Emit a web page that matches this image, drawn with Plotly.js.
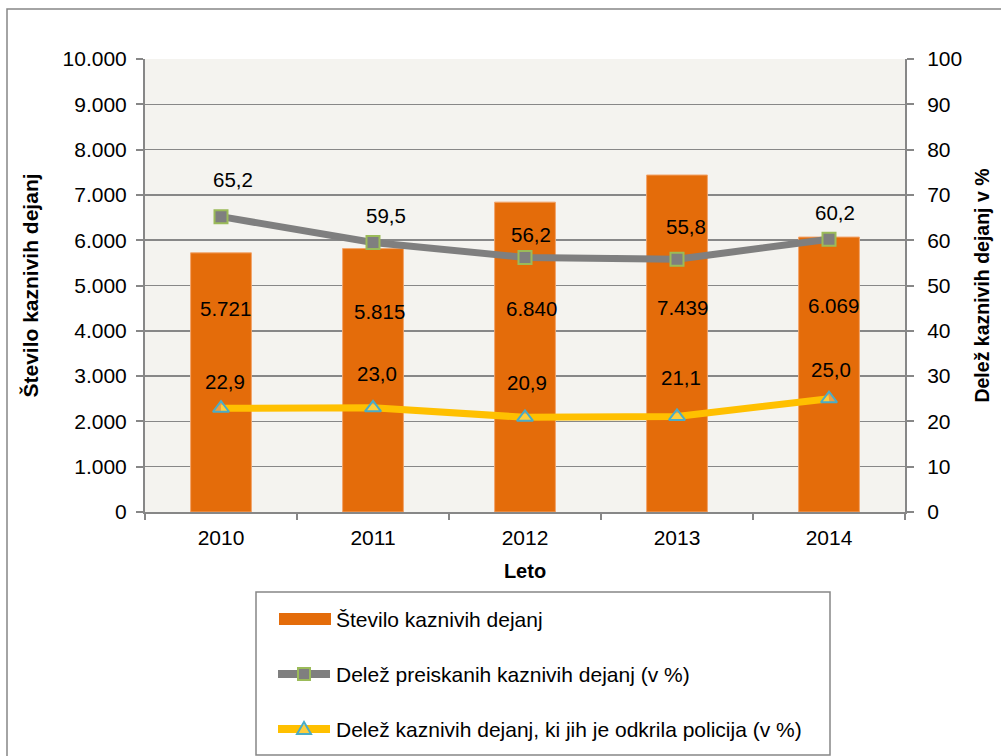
<!DOCTYPE html>
<html>
<head>
<meta charset="utf-8">
<script src="https://cdn.plot.ly/plotly-3.0.1.min.js"></script>
<style>html,body{margin:0;padding:0;background:#fff;}#chart{width:1001px;height:756px;}</style>
</head>
<body>
<div id="chart"></div>
<script>
// ---- data ----
var years = [2010, 2011, 2012, 2013, 2014];
var yearLabels = ['2010', '2011', '2012', '2013', '2014'];
var steviloKD = [5721, 5815, 6840, 7439, 6069];
var delezPreiskanih = [65.2, 59.5, 56.2, 55.8, 60.2];
var delezOdkritih = [22.9, 23.0, 20.9, 21.1, 25.0];
var steviloLabels = ['5.721', '5.815', '6.840', '7.439', '6.069'];
var preiskanihLabels = ['65,2', '59,5', '56,2', '55,8', '60,2'];
var odkritihLabels = ['22,9', '23,0', '20,9', '21,1', '25,0'];
var leftTickVals = [0, 1000, 2000, 3000, 4000, 5000, 6000, 7000, 8000, 9000, 10000];
var leftTickText = ['0', '1.000', '2.000', '3.000', '4.000', '5.000', '6.000', '7.000', '8.000', '9.000', '10.000'];

var seriesNames = ['Število kaznivih dejanj', 'Delež preiskanih kaznivih dejanj (v %)', 'Delež kaznivih dejanj, ki jih je odkrila policija (v %)'];

// ---- label placement (pixel shifts, styling only) ----
var grayShiftY = [37, 27, 23, 33, 27];
var grayShiftX = [12, 13, 6, 9, 6];
var yelShiftY = [27, 34, 35, 39, 29];
var yelShiftX = [4, 4, 2, 4, 2];
var barShiftX = [4, 6, 6, 5, 4];
var barShiftY = [0, -3, 0, 1, 3];

var FONT = 'Liberation Sans, Arial, sans-serif';
var GRID = '#878787';
var ORANGE = '#e46c0a', GRAY = '#7f7f7f', GREEN = '#9bbb59', YELLOW = '#ffc000', BLUE = '#4bacc6';

var boundaries = [];
for (var b = 0; b <= years.length; b++) boundaries.push(years[0] - 0.5 + b);

var traces = [
  {
    type: 'bar', x: years, y: steviloKD, name: seriesNames[0],
    marker: {color: ORANGE, line: {color: '#f2a46a', width: 1}},
    width: 0.4, hoverinfo: 'skip', showlegend: false
  },
  {
    type: 'scatter', mode: 'lines+markers', x: years, y: delezPreiskanih, yaxis: 'y2', name: seriesNames[1],
    line: {color: GRAY, width: 7},
    marker: {symbol: 'square', size: 13, color: GRAY, line: {color: GREEN, width: 2}},
    hoverinfo: 'skip', showlegend: false
  },
  {
    type: 'scatter', mode: 'lines+markers', x: years, y: delezOdkritih, yaxis: 'y2', name: seriesNames[2],
    line: {color: YELLOW, width: 7},
    marker: {symbol: 'triangle-up', size: 14, color: 'rgba(255,230,150,0.4)', line: {color: BLUE, width: 2}},
    hoverinfo: 'skip', showlegend: false
  }
];

var annotations = [];
for (var i = 0; i < years.length; i++) {
  annotations.push({x: years[i], y: 4500, xref: 'x', yref: 'y', text: steviloLabels[i], showarrow: false,
    xshift: barShiftX[i], yshift: barShiftY[i], font: {family: FONT, size: 20.5, color: '#000'}});
  annotations.push({x: years[i], y: delezPreiskanih[i], xref: 'x', yref: 'y2', text: preiskanihLabels[i], showarrow: false,
    xshift: grayShiftX[i], yshift: grayShiftY[i], font: {family: FONT, size: 20.5, color: '#000'}});
  annotations.push({x: years[i], y: delezOdkritih[i], xref: 'x', yref: 'y2', text: odkritihLabels[i], showarrow: false,
    xshift: yelShiftX[i], yshift: yelShiftY[i], font: {family: FONT, size: 20.5, color: '#000'}});
}

// pixel -> paper helpers (plot area 145..905 x 59..512)
function px(v) { return (v - 145) / 760; }
function py(v) { return (512 - v) / 453; }

var shapes = [
  {type: 'rect', xref: 'paper', yref: 'paper', x0: px(7), x1: px(1010), y0: py(9), y1: py(770),
    line: {color: '#868686', width: 1.5}, fillcolor: 'rgba(0,0,0,0)', layer: 'below'},
  {type: 'rect', xref: 'paper', yref: 'paper', x0: px(256), x1: px(830), y0: py(592), y1: py(755),
    line: {color: '#868686', width: 1.5}, fillcolor: 'rgba(0,0,0,0)'}
];

// custom legend
var legY = [619, 674, 729];
shapes.push({type: 'rect', xref: 'paper', yref: 'paper', x0: px(279), x1: px(331), y0: py(613), y1: py(625),
  line: {width: 0}, fillcolor: ORANGE});
shapes.push({type: 'line', xref: 'paper', yref: 'paper', x0: px(278), x1: px(330), y0: py(legY[1]), y1: py(legY[1]),
  line: {color: GRAY, width: 8}});
shapes.push({type: 'rect', xref: 'paper', yref: 'paper', x0: px(298), x1: px(310), y0: py(legY[1] - 6), y1: py(legY[1] + 6),
  line: {color: GREEN, width: 2}, fillcolor: GRAY});
shapes.push({type: 'line', xref: 'paper', yref: 'paper', x0: px(278), x1: px(330), y0: py(legY[2]), y1: py(legY[2]),
  line: {color: YELLOW, width: 8}});
shapes.push({type: 'path', xref: 'paper', yref: 'paper',
  path: 'M ' + px(304) + ' ' + py(legY[2] - 7) + ' L ' + px(297) + ' ' + py(legY[2] + 5) + ' L ' + px(311) + ' ' + py(legY[2] + 5) + ' Z',
  line: {color: BLUE, width: 2}, fillcolor: 'rgba(255,230,150,0.4)'});
for (var k = 0; k < seriesNames.length; k++) {
  annotations.push({xref: 'paper', yref: 'paper', x: px(334), y: py(legY[k]), xanchor: 'left', yanchor: 'middle',
    text: seriesNames[k], showarrow: false, font: {family: FONT, size: 21, color: '#000'}});
}

var layout = {
  width: 1001, height: 756,
  margin: {l: 145, r: 96, t: 59, b: 244},
  paper_bgcolor: '#ffffff',
  plot_bgcolor: '#f4f3ef',
  font: {family: FONT, size: 21, color: '#000'},
  showlegend: false,
  xaxis: {
    type: 'linear', range: [years[0] - 0.5, years[years.length - 1] + 0.5],
    tickvals: years, ticktext: yearLabels, ticks: '',
    minor: {tickvals: boundaries, ticks: 'outside', ticklen: 6, tickwidth: 2, tickcolor: GRID, showgrid: false},
    showline: true, linecolor: GRID, linewidth: 2, showgrid: false, zeroline: false,
    tickfont: {family: FONT, size: 21}, ticklabelstandoff: 6,
    title: {text: '<b>Leto</b>', font: {family: FONT, size: 20}, standoff: 16},
    fixedrange: true
  },
  yaxis: {
    range: [0, 10000], tickvals: leftTickVals, ticktext: leftTickText,
    ticks: 'outside', ticklen: 7, tickwidth: 2, tickcolor: GRID,
    showline: true, linecolor: GRID, linewidth: 2,
    showgrid: true, gridcolor: GRID, gridwidth: 1.5, zeroline: false,
    tickfont: {family: FONT, size: 21}, ticklabelstandoff: 5,
    title: {text: '<b>Število kaznivih dejanj</b>', font: {family: FONT, size: 21}, standoff: 18},
    fixedrange: true
  },
  yaxis2: {
    overlaying: 'y', side: 'right', range: [0, 100], dtick: 10,
    ticks: 'outside', ticklen: 7, tickwidth: 2, tickcolor: GRID,
    showline: true, linecolor: GRID, linewidth: 2, showgrid: false, zeroline: false,
    tickfont: {family: FONT, size: 21}, ticklabelstandoff: 9,
    title: {text: '<b>Delež kaznivih dejanj v %</b>', font: {family: FONT, size: 19.5}, standoff: 14},
    fixedrange: true
  },
  shapes: shapes,
  annotations: annotations
};

Plotly.newPlot('chart', traces, layout, {staticPlot: true, displayModeBar: false});
</script>
</body>
</html>
